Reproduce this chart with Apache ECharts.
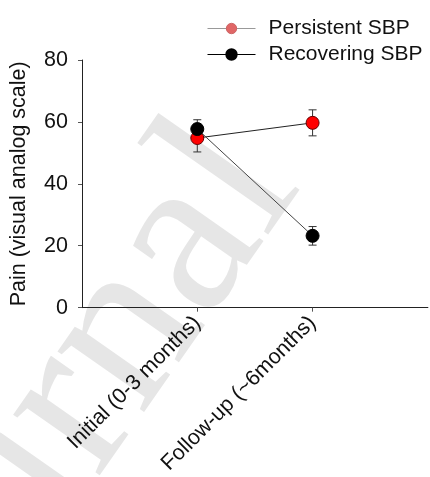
<!DOCTYPE html>
<html><head><meta charset="utf-8">
<script src="https://cdn.jsdelivr.net/npm/echarts@6/dist/echarts.min.js"></script>
<style>html,body{margin:0;padding:0;background:#fff}#c{width:430px;height:477px}</style>
</head><body><div id="c"></div>
<script>
var categories = ['Initial (0-3 months)', 'Follow-up (~6months)'];
var seriesNames = ['Persistent SBP', 'Recovering SBP'];
var persistentMean = [54.8, 59.7];
var persistentErr = [4.5, 4.2];
var recoveringMean = [57.7, 23.2];
var recoveringErr = [3.0, 3.0];
var yTicks = [0, 20, 40, 60, 80];

var axisCats = [''].concat(categories).concat(['']);
var FONT = 'Liberation Sans, Arial, sans-serif';

function pts(means) { return means.map(function (v, i) { return [categories[i], v]; }); }
function errData(means, errs) { return means.map(function (v, i) { return [categories[i], v - errs[i], v + errs[i]]; }); }

function errSeries(means, errs, z) {
  return {
    type: 'custom', z: z, silent: true,
    data: errData(means, errs),
    renderItem: function (params, api) {
      var lo = api.coord([api.value(0), api.value(1)]);
      var hi = api.coord([api.value(0), api.value(2)]);
      var w = 4;
      var st = { stroke: '#333', lineWidth: 1 };
      return { type: 'group', children: [
        { type: 'line', shape: { x1: lo[0], y1: lo[1], x2: hi[0], y2: hi[1] }, style: st },
        { type: 'line', shape: { x1: lo[0] - w, y1: lo[1], x2: lo[0] + w, y2: lo[1] }, style: st },
        { type: 'line', shape: { x1: hi[0] - w, y1: hi[1], x2: hi[0] + w, y2: hi[1] }, style: st }
      ] };
    }
  };
}

var chart = echarts.init(document.getElementById('c'), null, { renderer: 'canvas' });
chart.setOption({
  animation: false,
  backgroundColor: '#fff',
  textStyle: { fontFamily: FONT },
  graphic: [{
    type: 'text', z: -10, silent: true,
    x: -230, y: 640, rotation: 55 * Math.PI / 180,
    style: { text: 'Journal', font: '230px "Liberation Serif", serif', fill: '#e6e6e6', textAlign: 'left', textVerticalAlign: 'alphabetic' }
  }],
  grid: { left: 79, right: 0, top: 60, bottom: 168 },
  legend: {
    orient: 'vertical', left: 202, top: 13, itemGap: 5,
    itemWidth: 48, itemHeight: 13,
    textStyle: { fontSize: 21, color: '#111', fontFamily: FONT, padding: [0, 0, 0, 8] },
    data: [
      { name: seriesNames[0], itemStyle: { color: '#e06666', borderColor: '#c66', borderWidth: 1 }, lineStyle: { color: '#999', width: 1 } },
      { name: seriesNames[1], itemStyle: { color: '#000', borderColor: '#000' }, lineStyle: { color: '#000', width: 1 } }
    ]
  },
  xAxis: {
    type: 'category', data: axisCats, boundaryGap: false,
    axisLine: { lineStyle: { color: '#222', width: 1 } },
    axisTick: { show: true, length: 4, inside: false, lineStyle: { color: '#555' },
      interval: function (i) { return i > 0 && i < axisCats.length - 1; } },
    axisLabel: { rotate: 45, fontSize: 21.5, color: '#111', margin: 12, interval: 0, fontFamily: FONT },
    splitLine: { show: false }
  },
  yAxis: {
    type: 'value', min: 0, max: 80, interval: 20,
    name: 'Pain (visual analog scale)', nameLocation: 'middle', nameGap: 52,
    nameTextStyle: { fontSize: 21.5, color: '#111', fontFamily: FONT },
    axisLine: { show: true, lineStyle: { color: '#222', width: 1 } },
    axisTick: { show: true, length: 4, lineStyle: { color: '#555' } },
    axisLabel: { fontSize: 21.5, color: '#111', margin: 14, fontFamily: FONT,
      formatter: function (v) { return yTicks.indexOf(v) >= 0 ? String(v) : ''; } },
    splitLine: { show: false }
  },
  series: [
    errSeries(persistentMean, persistentErr, 2),
    errSeries(recoveringMean, recoveringErr, 2),
    { name: seriesNames[0], type: 'line', z: 3, data: pts(persistentMean),
      symbol: 'circle', symbolSize: 13,
      lineStyle: { color: '#222', width: 1 },
      itemStyle: { color: '#ff0000', borderColor: '#600', borderWidth: 1 } },
    { name: seriesNames[1], type: 'line', z: 4, data: pts(recoveringMean),
      symbol: 'circle', symbolSize: 13,
      lineStyle: { color: '#444', width: 1 },
      itemStyle: { color: '#000', borderColor: '#000', borderWidth: 1 } }
  ]
});
</script></body></html>
